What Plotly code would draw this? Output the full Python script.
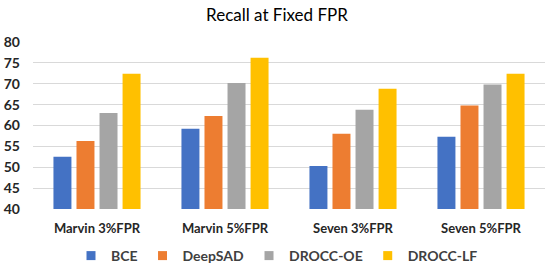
import plotly.graph_objects as go

categories = ["Marvin 3%FPR", "Marvin 5%FPR", "Seven 3%FPR", "Seven 5%FPR"]
series_names = ["BCE", "DeepSAD", "DROCC-OE", "DROCC-LF"]
bce = [52.5, 59.2, 50.3, 57.3]
deepsad = [56.3, 62.3, 58.0, 64.8]
drocc_oe = [63.0, 70.2, 63.8, 69.8]
drocc_lf = [72.4, 76.2, 68.8, 72.4]
colors = ["#4472C4", "#ED7D31", "#A5A5A5", "#FFC000"]
y_ticks = [40, 45, 50, 55, 60, 65, 70, 75, 80]

fig = go.Figure()
for name, vals, col in zip(series_names, [bce, deepsad, drocc_oe, drocc_lf], colors):
    fig.add_trace(go.Bar(x=categories, y=vals, name=name, marker_color=col,
                         marker_line_width=0, legendgroup=name, showlegend=False))
# legend entries drawn as small squares, like the reference
for name, col in zip(series_names, colors):
    fig.add_trace(go.Scatter(x=[categories[0]], y=[None], mode="markers", name=name,
                             legendgroup=name, hoverinfo="skip",
                             marker=dict(symbol="square", size=9, color=col)))

font_family = "Lato, Open Sans, sans-serif"
fig.update_layout(
    width=554, height=274,
    margin=dict(l=33, r=9, t=42, b=65, autoexpand=False),
    paper_bgcolor="white", plot_bgcolor="white",
    barmode="group", bargap=0.28, bargroupgap=0.22,
    title=dict(text="Recall at Fixed FPR", x=0.5, xanchor="center",
               y=1 - 15 / 274, yanchor="middle", yref="container",
               font=dict(family=font_family, size=17, color="#000000")),
    font=dict(family=font_family),
    showlegend=True,
    legend=dict(orientation="h", x=0.5, xanchor="center", xref="container",
                y=18 / 274, yanchor="middle", yref="container",
                font=dict(family=font_family, size=14, color="#404040", weight="bold"),
                itemwidth=30, traceorder="normal"),
    xaxis=dict(showgrid=False, showline=False, ticks="", ticklabelstandoff=10,
               tickfont=dict(family=font_family, size=13, color="#262626", weight="bold")),
    yaxis=dict(range=[40, 80], tickvals=y_ticks, showgrid=True, gridcolor="#D9D9D9",
               gridwidth=1, zeroline=False, showline=False, ticks="", ticklabelstandoff=12,
               tickfont=dict(family=font_family, size=14, color="#262626", weight="bold")),
)

fig.write_html("out.html", config={"displayModeBar": False},
               post_script="document.body.style.margin='0';document.body.style.overflow='hidden';")
